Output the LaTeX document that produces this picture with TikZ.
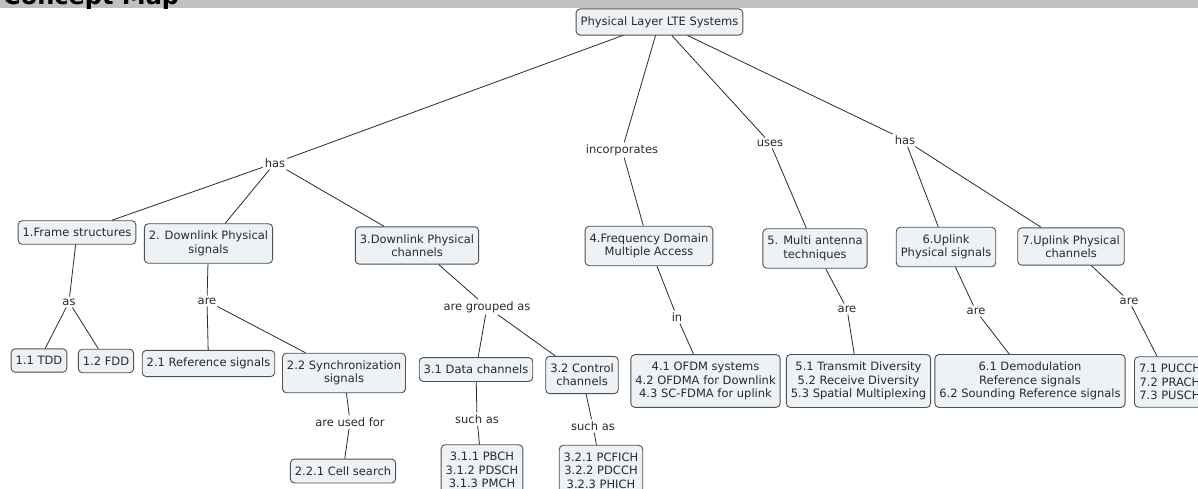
\documentclass[tikz,border=0pt]{standalone}
\usepackage{fontspec}
\usepackage{tikz}
\newfontfamily\mapfont{DejaVu Sans}
\definecolor{cmfill}{HTML}{ECF2F5}
\definecolor{cmdark}{HTML}{505050}
\definecolor{cmtext}{HTML}{2A2A2A}
\definecolor{cmbar}{HTML}{C0C0C0}

\begin{document}
\begin{tikzpicture}[
  x=1pt, y=-1pt,
  concept/.style={
    rectangle, draw=cmdark, fill=cmfill, rounded corners=4pt,
    line width=0.9pt, inner xsep=4.5pt, inner ysep=7.5pt, align=center,
    text=cmtext, font=\mapfont\fontsize{11.5}{13.4}\selectfont
  },
  phrase/.style={
    inner sep=2pt, text=cmtext, font=\mapfont\fontsize{11.5}{13.4}\selectfont
  },
  link/.style={draw=cmtext, line width=0.8pt},
]
  \useasboundingbox (0,0) rectangle (1198,489);
  \clip (0,0) rectangle (1198,489);

  % Title bar
  \fill[cmbar] (0,0) rectangle (1198,8.5);
  \node[anchor=base west, inner sep=0pt, font=\mapfont\fontsize{24}{24}\bfseries] (title) at (3,5) {Concept Map};

  % Root
  \node[concept] (root) at (659.5,22) {Physical Layer LTE Systems};

  % Linking phrases, first level
  \node[phrase] (hasL) at (275,163) {has};
  \node[phrase] (incorp) at (622,150) {incorporates};
  \node[phrase] (uses) at (770,143) {uses};
  \node[phrase] (hasR) at (905,140) {has};

  % Main topics
  \node[concept] (frame) at (77,232.5) {1.Frame structures};
  \node[concept] (dlsig) at (208.5,243.5) {2. Downlink Physical\\signals};
  \node[concept] (dlch) at (417,245.5) {3.Downlink Physical\\channels};
  \node[concept] (fdma) at (649,246) {4.Frequency Domain\\Multiple Access};
  \node[concept] (mimo) at (815,248.5) {5. Multi antenna\\techniques};
  \node[concept] (ulsig) at (946,247) {6.Uplink\\Physical signals};
  \node[concept] (ulch) at (1071,246.5) {7.Uplink Physical\\channels};

  % Linking phrases, second level
  \node[phrase] (as) at (69,302) {as};
  \node[phrase] (areDl) at (207,301) {are};
  \node[phrase] (grouped) at (487,307) {are grouped as};
  \node[phrase] (in) at (677,317) {in};
  \node[phrase] (areMimo) at (847,309) {are};
  \node[phrase] (areUlsig) at (976,311) {are};
  \node[phrase] (areUlch) at (1129,301) {are};

  % Sub topics
  \node[concept] (tdd) at (39,360.5) {1.1 TDD};
  \node[concept] (fdd) at (106,361) {1.2 FDD};
  \node[concept] (refsig) at (208.5,363.5) {2.1 Reference signals};
  \node[concept] (syncsig) at (344,373) {2.2 Synchronization\\signals};
  \node[concept] (datach) at (476,369.5) {3.1 Data channels};
  \node[concept] (ctrlch) at (582,375) {3.2 Control\\channels};
  \node[concept] (ofdm) at (705.5,381) {4.1 OFDM systems\\4.2 OFDMA for Downlink\\4.3 SC-FDMA for uplink};
  \node[concept] (divers) at (858.5,381) {5.1 Transmit Diversity\\5.2 Receive Diversity\\5.3 Spatial Multiplexing};
  \node[concept] (ulref) at (1030,381) {6.1 Demodulation\\Reference signals\\6.2 Sounding Reference signals};
  \node[concept] (ulchs) at (1170,382) {7.1 PUCCH\\7.2 PRACH\\7.3 PUSCH};

  % Third level
  \node[phrase] (usedfor) at (350,422) {are used for};
  \node[phrase] (suchData) at (477,419) {such as};
  \node[phrase] (suchCtrl) at (593,426) {such as};
  \node[concept] (cellsearch) at (343,471) {2.2.1 Cell search};
  \node[concept] (datalist) at (482,470) {3.1.1 PBCH\\3.1.2 PDSCH\\3.1.3 PMCH};
  \node[concept] (ctrllist) at (601,470.5) {3.2.1 PCFICH\\3.2.2 PDCCH\\3.2.3 PHICH};

  % Links
  \draw[link] (root) -- (hasL) -- (frame);
  \draw[link] (hasL) -- (dlsig);
  \draw[link] (hasL) -- (dlch);
  \draw[link] (root) -- (incorp) -- (fdma);
  \draw[link] (root) -- (uses) -- (mimo);
  \draw[link] (root) -- (hasR) -- (ulsig);
  \draw[link] (hasR) -- (ulch);
  \draw[link] (frame) -- (as) -- (tdd);
  \draw[link] (as) -- (fdd);
  \draw[link] (dlsig) -- (areDl) -- (refsig);
  \draw[link] (areDl) -- (syncsig);
  \draw[link] (syncsig) -- (usedfor) -- (cellsearch);
  \draw[link] (dlch) -- (grouped) -- (datach);
  \draw[link] (grouped) -- (ctrlch);
  \draw[link] (datach) -- (suchData) -- (datalist);
  \draw[link] (ctrlch) -- (suchCtrl) -- (ctrllist);
  \draw[link] (fdma) -- (in) -- (ofdm);
  \draw[link] (mimo) -- (areMimo) -- (divers);
  \draw[link] (ulsig) -- (areUlsig) -- (ulref);
  \draw[link] (ulch) -- (areUlch) -- (ulchs);
\end{tikzpicture}
\end{document}
